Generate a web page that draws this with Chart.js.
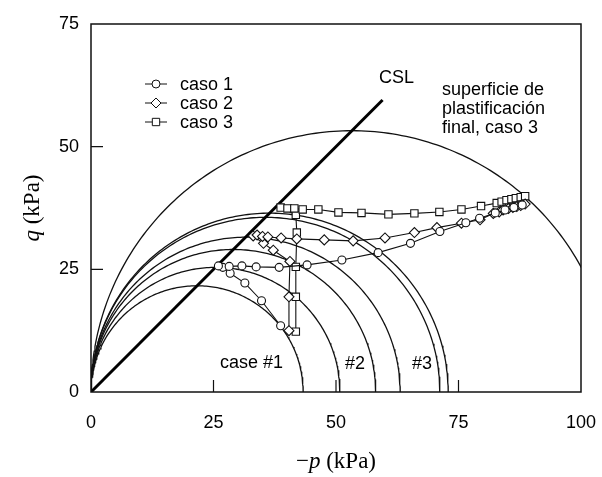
<!DOCTYPE html>
<html>
<head>
<meta charset="utf-8">
<script src="https://cdn.jsdelivr.net/npm/chart.js@4/dist/chart.umd.min.js"></script>
<style>
  html, body { margin: 0; padding: 0; background: #fff; }
  #wrap { width: 602px; height: 477px; }
</style>
</head>
<body>
<div id="wrap"><canvas id="c" width="602" height="477"></canvas></div>
<script>
// Axis ticks
const xTicks = [0, 25, 50, 75, 100];
const yTicks = [0, 25, 50, 75];
const innerXTicks = [25, 50, 75];
const innerYTicks = [25, 50];

// Critical state line q = M·(−p)
const cslSlope = 1.0;
const cslEndP = 59.5;

// Yield surfaces (Cam-Clay ellipses), preconsolidation pressures p0 in kPa
const yieldP0 = [43.3, 50.8, 58.1, 63.1, 71.2, 72.9, 106.5];

// Stress paths
const case1P = [38.7, 34.8, 31.4, 28.4, 26.9, 26.0, 28.2, 30.8, 33.7, 38.4, 44.1, 51.2, 58.6, 65.2, 71.2, 76.5, 79.3, 82.5, 84.5, 86.3, 88.0];
const case1Q = [13.5, 18.6, 22.2, 24.2, 25.4, 25.7, 25.6, 25.7, 25.5, 25.4, 25.9, 26.9, 28.4, 30.3, 32.7, 34.5, 35.4, 36.5, 37.1, 37.6, 38.1];

const case2P = [40.4, 40.4, 40.6, 37.2, 35.2, 33.1, 33.9, 35.0, 36.1, 38.8, 42.0, 47.6, 53.5, 60.0, 66.0, 70.6, 75.6, 79.4, 82.1, 83.3, 84.1, 85.2, 86.1, 86.9, 87.7, 88.6];
const case2Q = [12.5, 19.4, 26.6, 28.9, 30.3, 31.8, 32.0, 31.7, 31.6, 31.4, 31.2, 31.0, 30.8, 31.4, 32.5, 33.5, 34.4, 35.1, 36.4, 36.7, 37.1, 37.4, 37.6, 37.8, 38.0, 38.3];

const case3P = [41.8, 41.8, 41.8, 42.0, 41.8, 38.7, 40.1, 41.5, 43.2, 46.4, 50.5, 55.2, 60.7, 66.0, 71.1, 75.6, 79.6, 82.8, 83.8, 84.8, 85.8, 86.7, 87.7, 88.6];
const case3Q = [12.3, 19.4, 25.5, 32.5, 36.1, 37.6, 37.4, 37.4, 37.2, 37.2, 36.6, 36.5, 36.2, 36.4, 36.7, 37.2, 37.9, 38.5, 38.8, 39.1, 39.3, 39.5, 39.7, 39.9];

const seriesLabels = ['caso 1', 'caso 2', 'caso 3'];

const SANS = '"Liberation Sans", Arial, Helvetica, sans-serif';
const SERIF = '"Liberation Serif", "Times New Roman", serif';

function pairs(ps, qs) { return ps.map((p, i) => ({ x: p, y: qs[i] })); }

// Cam-Clay yield ellipse: q = M·sqrt(p·(p0 − p)), traced by angle
function yieldCurve(p0) {
  const pts = [];
  const n = 180;
  for (let i = 0; i <= n; i++) {
    const t = Math.PI * i / n;
    pts.push({ x: p0 / 2 * (1 - Math.cos(t)), y: cslSlope * p0 / 2 * Math.sin(t) });
  }
  return pts;
}

const markerStyles = ['circle', 'rectRot', 'rect'];
const markerRadius = [4, 5, 5.2];

const datasets = [];
yieldP0.forEach(p0 => datasets.push({
  data: yieldCurve(p0), showLine: true, borderColor: '#111', borderWidth: 1.3,
  pointRadius: 0, fill: false, tension: 0, order: 3
}));
datasets.push({
  data: [{ x: 0, y: 0 }, { x: cslEndP, y: cslSlope * cslEndP }], showLine: true,
  borderColor: '#000', borderWidth: 3, pointRadius: 0, order: 2
});
[[case1P, case1Q], [case2P, case2Q], [case3P, case3Q]].forEach((s, k) => datasets.push({
  label: seriesLabels[k], data: pairs(s[0], s[1]), showLine: true,
  borderColor: '#111', borderWidth: 1.1, pointStyle: markerStyles[k],
  pointRadius: markerRadius[k], pointBackgroundColor: '#fff', pointBorderColor: '#111',
  pointBorderWidth: 1.1, order: 1
}));

const decor = {
  id: 'decor',
  afterDraw(chart) {
    const ctx = chart.ctx, a = chart.chartArea;
    const xs = chart.scales.x, ys = chart.scales.y;
    ctx.save();
    ctx.strokeStyle = '#111';
    ctx.lineWidth = 1.5;
    ctx.strokeRect(a.left, a.top, a.right - a.left, a.bottom - a.top);
    ctx.lineWidth = 1.2;
    ctx.beginPath();
    innerXTicks.forEach(v => { const px = xs.getPixelForValue(v); ctx.moveTo(px, a.bottom); ctx.lineTo(px, a.bottom - 12); });
    innerYTicks.forEach(v => { const py = ys.getPixelForValue(v); ctx.moveTo(a.left, py); ctx.lineTo(a.left + 12, py); });
    ctx.stroke();

    // legend
    ctx.fillStyle = '#000';
    ctx.font = '18px ' + SANS;
    ctx.textBaseline = 'middle';
    ctx.textAlign = 'left';
    const legY = [84, 103, 122];
    seriesLabels.forEach((lab, k) => {
      const y = legY[k];
      ctx.lineWidth = 1;
      ctx.beginPath(); ctx.moveTo(145, y); ctx.lineTo(167, y); ctx.stroke();
      ctx.fillStyle = '#fff';
      Chart.helpers.drawPoint(ctx, { pointStyle: markerStyles[k], radius: markerRadius[k], borderWidth: 1.1 }, 156, y);
      ctx.fillStyle = '#000';
      ctx.fillText(lab, 180, y + 1);
    });

    // annotations
    ctx.fillText('CSL', 379, 78);
    ctx.fillText('superficie de', 442, 90);
    ctx.fillText('plastificación', 442, 109);
    ctx.fillText('final, caso 3', 442, 128);
    ctx.fillText('case #1', 220, 363);
    ctx.fillText('#2', 345, 364);
    ctx.fillText('#3', 412, 364);

    // axis titles
    const fs = 23;
    const xt = ['−', 'p', ' (kPa)'];
    const fonts = [fs + 'px ' + SERIF, 'italic ' + fs + 'px ' + SERIF, fs + 'px ' + SERIF];
    let w = 0;
    xt.forEach((t, i) => { ctx.font = fonts[i]; w += ctx.measureText(t).width; });
    let x0 = (a.left + a.right) / 2 - w / 2;
    xt.forEach((t, i) => { ctx.font = fonts[i]; ctx.fillText(t, x0, 462); x0 += ctx.measureText(t).width; });

    ctx.translate(33, (a.top + a.bottom) / 2);
    ctx.rotate(-Math.PI / 2);
    const yt = ['q', ' (kPa)'];
    const yf = ['italic ' + fs + 'px ' + SERIF, fs + 'px ' + SERIF];
    w = 0;
    yt.forEach((t, i) => { ctx.font = yf[i]; w += ctx.measureText(t).width; });
    x0 = -w / 2;
    yt.forEach((t, i) => { ctx.font = yf[i]; ctx.fillText(t, x0, 0); x0 += ctx.measureText(t).width; });
    ctx.restore();
  }
};

new Chart(document.getElementById('c'), {
  type: 'scatter',
  data: { datasets },
  options: {
    responsive: false, animation: false, devicePixelRatio: 1,
    layout: { padding: { left: 0, top: 24, right: 21, bottom: 0 } },
    plugins: { legend: { display: false }, tooltip: { enabled: false } },
    scales: {
      x: {
        type: 'linear', min: 0, max: 100,
        afterFit(s) { s.height = 85; s.paddingLeft = 0; s.paddingRight = 0; },
        afterBuildTicks(s) { s.ticks = xTicks.map(v => ({ value: v })); },
        grid: { display: false, drawTicks: false },
        border: { display: false },
        ticks: { color: '#000', font: { family: SANS, size: 18 }, padding: 20, maxRotation: 0 }
      },
      y: {
        type: 'linear', min: 0, max: 75,
        afterFit(s) { s.width = 91; s.paddingTop = 0; s.paddingBottom = 0; },
        afterBuildTicks(s) { s.ticks = yTicks.map(v => ({ value: v })); },
        grid: { display: false, drawTicks: false },
        border: { display: false },
        ticks: { color: '#000', font: { family: SANS, size: 18 }, padding: 12 }
      }
    }
  },
  plugins: [decor]
});
</script>
</body>
</html>
